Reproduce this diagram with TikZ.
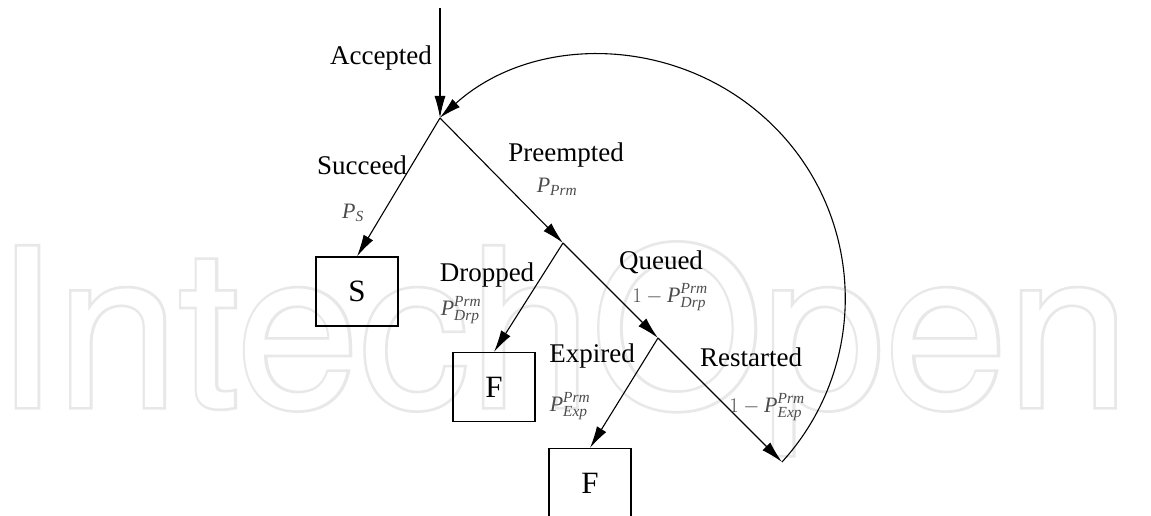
\documentclass[tikz,border=0pt]{standalone}
\usepackage{fontspec}
\usepackage{amsmath}
\setmainfont{Liberation Serif}
\newfontfamily\wmfont{TeX Gyre Heros}
\newfontfamily\wmboldfont{TeX Gyre Heros}[FakeBold=2.4]
\usetikzlibrary{arrows.meta}

\tikzset{
  flow/.style={line width=1.1pt, -{Latex[length=22pt,width=11pt]}},
  outcome/.style={draw, line width=1.1pt, minimum width=82pt, minimum height=69pt,
    inner sep=0pt, font=\fontsize{31}{31}\selectfont},
  evt/.style={font=\fontsize{27}{30}\selectfont, inner sep=0pt},
  prob/.style={font=\fontsize{22}{24}\selectfont, text=black!70, inner sep=0pt},
  wmark/.style={anchor=base west, inner sep=0pt},
}

\begin{document}
\begin{tikzpicture}[x=1pt,y=-1pt]
\useasboundingbox (0,0) rectangle (1151,516);

% outlined publisher mark in the background
\node[wmark, text=black!9, font=\wmboldfont\fontsize{220}{220}\selectfont] (wmo) at (-5,407) {IntechOpen};
\node[wmark, text=white, font=\wmfont\fontsize{220}{220}\selectfont] (wmi) at (-5,407) {IntechOpen};

% branching points
\coordinate (src) at (440,8);
\coordinate (j0) at (440,118);
\coordinate (j1) at (563,243);
\coordinate (j2) at (658,338);
\coordinate (rs) at (782,462);

% final states
\node[outcome] (S) at (357,291.5) {S};
\node[outcome] (F1) at (494,387) {F};
\node[outcome] (F2) at (590,483) {F};

% transitions
\draw[flow] (src) -- (j0);
\draw[flow] (j0) -- (S.north);
\draw[flow] (j0) -- (j1);
\draw[flow] (j1) -- (F1.north);
\draw[flow] (j1) -- (j2);
\draw[flow] (j2) -- (F2.north);
\draw[flow] (j2) -- (rs);
\draw[flow] (rs) arc[start angle=42.3, end angle=-132, radius=243];

% event labels
\node[evt] (lacc) at (381,58) {Accepted};
\node[evt] (lsuc) at (362,165) {Succeed};
\node[evt] (lpre) at (566,155) {Preempted};
\node[evt] (ldrp) at (487,275) {Dropped};
\node[evt] (lque) at (661,262) {Queued};
\node[evt] (lexp) at (592,356) {Expired};
\node[evt] (lres) at (751,357) {Restarted};

% probabilities
\node[prob] (ps) at (353,213) {$\textit{P}_{\textit{S}}$};
\node[prob] (pprm) at (557,187) {$\textit{P}_{\textit{Prm}}$};
\node[prob] (pdrp) at (461,310) {$\textit{P}^{\textit{Prm}}_{\textit{Drp}}$};
\node[prob] (pque) at (670,297) {$1-\textit{P}^{\textit{Prm}}_{\textit{Drp}}$};
\node[prob] (pexp) at (570,406) {$\textit{P}^{\textit{Prm}}_{\textit{Exp}}$};
\node[prob] (pres) at (767,407) {$1-\textit{P}^{\textit{Prm}}_{\textit{Exp}}$};
\end{tikzpicture}
\end{document}
